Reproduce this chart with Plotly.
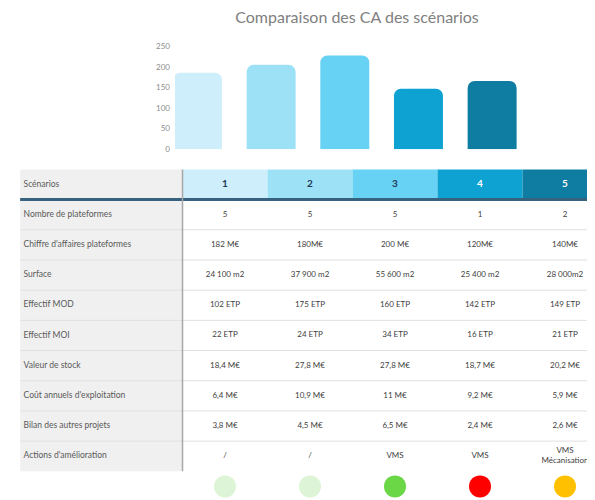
import plotly.graph_objects as go

# ---------------- data ----------------
scenarios = ["1", "2", "3", "4", "5"]
ca_values = [186, 205, 228, 147, 166]
scenario_colors = ["#CDEEFA", "#9CE1F6", "#67D2F3", "#0EA2D3", "#0E7DA1"]
header_text_colors = ["#1F3A56", "#1F3A56", "#1F3A56", "#FFFFFF", "#FFFFFF"]
y_ticks = [0, 50, 100, 150, 200, 250]

row_labels = [
    "Nombre de plateformes",
    "Chiffre d'affaires plateformes",
    "Surface",
    "Effectif MOD",
    "Effectif MOI",
    "Valeur de stock",
    "Coût annuels d'exploitation",
    "Bilan des autres projets",
    "Actions d'amélioration",
]
nb_plateformes = ["5", "5", "5", "1", "2"]
ca_plateformes = ["182 M€", "180M€", "200 M€", "120M€", "140M€"]
surface = ["24 100 m2", "37 900 m2", "55 600 m2", "25 400 m2", "28 000m2"]
effectif_mod = ["102 ETP", "175 ETP", "160 ETP", "142 ETP", "149 ETP"]
effectif_moi = ["22 ETP", "24 ETP", "34 ETP", "16 ETP", "21 ETP"]
valeur_stock = ["18,4 M€", "27,8 M€", "27,8 M€", "18,7 M€", "20,2 M€"]
cout_exploitation = ["6,4 M€", "10,9 M€", "11 M€", "9,2 M€", "5,9 M€"]
autres_projets = ["3,8 M€", "4,5 M€", "6,5 M€", "2,4 M€", "2,6 M€"]
actions = ["/", "/", "VMS", "VMS", "VMS<br>Mécanisation"]
status_colors = ["#DDF5D6", "#DDF5D6", "#6BD646", "#FF0000", "#FFC000"]

table_rows = [nb_plateformes, ca_plateformes, surface, effectif_mod, effectif_moi,
              valeur_stock, cout_exploitation, autres_projets, actions]

FONT = "Lato, 'Open Sans', sans-serif"

fig = go.Figure()

# ---------------- bar chart ----------------
fig.add_trace(go.Bar(
    x=[int(s) for s in scenarios], y=ca_values,
    marker=dict(color=scenario_colors, cornerradius=7, line=dict(width=0)),
    width=0.665, hoverinfo="skip", showlegend=False,
    xaxis="x", yaxis="y",
))

# ---------------- table (x2 / y2) ----------------
n_cols = len(scenarios)
n_rows = len(row_labels)
label_left = -1.41
col_right = n_cols + 0.5

shapes = []
# label column background
shapes.append(dict(type="rect", xref="x2", yref="y2", x0=label_left, x1=0.5,
                   y0=-0.5, y1=n_rows + 0.5, fillcolor="#F0F0F0",
                   line=dict(width=0), layer="below"))
# header fills
for i, c in enumerate(scenario_colors):
    shapes.append(dict(type="rect", xref="x2", yref="y2", x0=i + 0.5, x1=i + 1.5,
                       y0=-0.5, y1=0.5, fillcolor=c, line=dict(width=0), layer="below"))
# row separators
for r in range(1, n_rows):
    shapes.append(dict(type="line", xref="x2", yref="y2", x0=label_left, x1=col_right,
                       y0=r + 0.5, y1=r + 0.5, line=dict(color="#E0E0E0", width=1)))
# header bottom line
shapes.append(dict(type="line", xref="x2", yref="y2", x0=label_left, x1=col_right,
                   y0=0.5, y1=0.5, line=dict(color="#36617F", width=3)))
# vertical separator
shapes.append(dict(type="line", xref="x2", yref="y2", x0=0.5, x1=0.5,
                   y0=-0.5, y1=n_rows + 0.5, line=dict(color="#A8A8A8", width=1.5)))

# header label and row labels
fig.add_trace(go.Scatter(
    x=[label_left + 0.04] * (n_rows + 1), y=list(range(n_rows + 1)),
    text=["Scénarios"] + row_labels, mode="text", textposition="middle right",
    textfont=dict(family=FONT, size=8.5, color="#595959"),
    hoverinfo="skip", showlegend=False, xaxis="x2", yaxis="y2",
))
# header numbers
fig.add_trace(go.Scatter(
    x=list(range(1, n_cols + 1)), y=[0] * n_cols, text=["<b>%s</b>" % s for s in scenarios],
    mode="text", textfont=dict(family=FONT, size=10, color=header_text_colors),
    hoverinfo="skip", showlegend=False, xaxis="x2", yaxis="y2",
))
# cell values
xs, ys, ts = [], [], []
for r, row in enumerate(table_rows, start=1):
    for c, v in enumerate(row, start=1):
        xs.append(c); ys.append(r); ts.append(v)
fig.add_trace(go.Scatter(
    x=xs, y=ys, text=ts, mode="text",
    textfont=dict(family=FONT, size=8, color="#404040"),
    hoverinfo="skip", showlegend=False, xaxis="x2", yaxis="y2",
))
# status circles
fig.add_trace(go.Scatter(
    x=list(range(1, n_cols + 1)), y=[n_rows + 1] * n_cols, mode="markers",
    marker=dict(size=22, color=status_colors, line=dict(width=0)),
    hoverinfo="skip", showlegend=False, xaxis="x2", yaxis="y2", cliponaxis=False,
))

fig.update_layout(
    width=595, height=500,
    margin=dict(l=0, r=0, t=0, b=0),
    paper_bgcolor="white", plot_bgcolor="rgba(0,0,0,0)",
    font=dict(family=FONT),
    title=dict(text="Comparaison des CA des scénarios", x=349 / 595, xanchor="center",
               y=0.982, yanchor="middle",
               font=dict(family=FONT, size=16, color="#808080")),
    xaxis=dict(domain=[167 / 595, 532 / 595], range=[0.695, 5.65],
               showticklabels=False, showgrid=False, zeroline=False, showline=False,
               fixedrange=True),
    yaxis=dict(domain=[0.722, 0.932], range=[0, 250], tickvals=y_ticks,
               showgrid=False, zeroline=False, showline=False, ticks="",
               tickfont=dict(family=FONT, size=8, color="#8C8C8C"),
               ticklabelstandoff=4, fixedrange=True),
    xaxis2=dict(domain=[0, 1], range=[-1.553, 5.447], visible=False, fixedrange=True),
    yaxis2=dict(domain=[0, 0.69], range=[10.55, -0.649], visible=False, fixedrange=True),
    shapes=shapes,
)

fig.write_html("out.html")
